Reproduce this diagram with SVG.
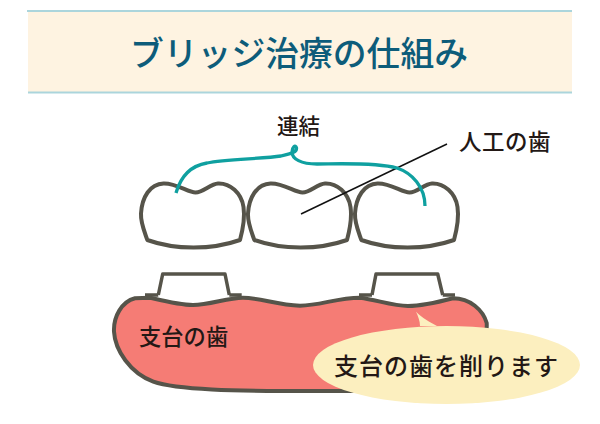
<svg xmlns="http://www.w3.org/2000/svg" width="600" height="424" viewBox="0 0 600 424">
<style>
text{font-family:"Noto Sans CJK JP","Noto Sans",sans-serif;fill:#231815;font-weight:500}
.o{fill:#fff;stroke:#56544a;stroke-width:4;stroke-linejoin:round}
.a{fill:#fff;stroke:#56544a;stroke-width:3.500;stroke-linejoin:round}
.t{fill:none;stroke:#0fa0a0;stroke-width:3.300;stroke-linecap:butt}
.b{stroke:#abd5dc;stroke-width:2}
</style>
<defs>
<path id="tooth" d="M147.3 240C175 250 212 250 240 240C243.500 227 245 217 243.500 207C241.500 193 230 183 218 183.500C210 184 203.500 192.500 195.500 192.500C188 192.500 176.500 183 163.500 183.500C150 184 142 197 141 213.500C140.500 223 145 233 147.300 240Z"/>
</defs>
<g id="title">
<rect x="28" y="11" width="544" height="81" fill="#fef3e1"/>
<line class="b" x1="27" y1="11" x2="572" y2="11"/>
<line class="b" x1="28" y1="92.500" x2="572" y2="92.500"/>
<text x="299" y="66" text-anchor="middle" font-size="33.800" style="fill:#0d5c7a">ブリッジ治療の仕組み</text>
</g>
<g id="tooth-1"><use href="#tooth" class="o"/></g>
<g id="tooth-2"><use href="#tooth" class="o" x="107"/></g>
<g id="tooth-3"><use href="#tooth" class="o" x="214"/></g>
<g id="gum">
<path class="a" d="M158.300 295L162.700 274H225L229.300 295"/>
<path class="a" d="M372 295L376 274H437.700L442.700 295"/>
<path d="M145 295H158.300M229.300 295H241.700M359 295H372M442.700 295H455" fill="none" stroke="#56544a" stroke-width="3.500"/>
<path d="M135 298.300C121.700 301.700 113.300 316.700 114 331.700C115 350 130 373 153.300 381.700C176.700 390 233 391 313 391L400 391C440 391 470 360 480 345C487 335 487 330 486.700 323C483 310 470 298.300 453 298.300C440 301.700 423 306 408 306C393 306 377 300 360 297.700C337 297.700 320 305.700 300 305.700C277 305 260 297.700 243 297.700C227 297.700 210 305 193 305C180 305 167 301.700 150 297.700Z" fill="#f57c75" stroke="#56544a" stroke-width="4" stroke-linejoin="round"/>
<text x="139" y="345" font-size="22.300">支台の歯</text>
</g>
<g id="callout">
<path d="M416 311.700C422 318 430 322 437 326H420C420 321 418 316 416 311.700Z" fill="#fcefbf"/>
<ellipse cx="446.500" cy="365" rx="133.500" ry="39" fill="#fcefbf"/>
<text x="334" y="375" font-size="24" letter-spacing="1">支台の歯を削ります</text>
</g>
<g id="connectors">
<line x1="301" y1="214" x2="447" y2="144" stroke="#111" stroke-width="1.500"/>
<path class="t" d="M176 193C182 172 195 165 207 163C225 159 262 159 281 156C289 154 297 153 296.500 148C295.500 144 292 147 292 152C292 159 301 164 317 164C335 164 375 162 397 168C412 173 425 187 425 206"/>
</g>
<g id="labels">
<text x="277" y="134" font-size="21.500">連結</text>
<text x="459" y="150" font-size="22.500" letter-spacing="0.500">人工の歯</text>
</g>
</svg>
